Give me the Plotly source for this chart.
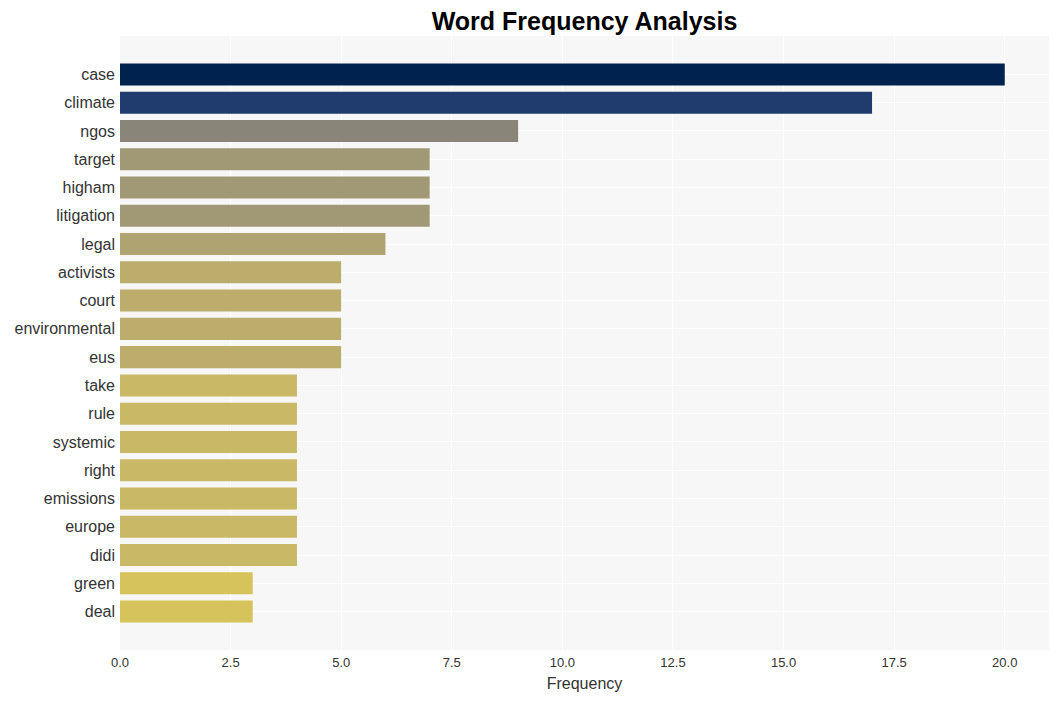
import plotly.graph_objects as go

words = ["case", "climate", "ngos", "target", "higham", "litigation", "legal",
         "activists", "court", "environmental", "eus", "take", "rule", "systemic",
         "right", "emissions", "europe", "didi", "green", "deal"]
counts = [20, 17, 9, 7, 7, 7, 6, 5, 5, 5, 5, 4, 4, 4, 4, 4, 4, 4, 3, 3]

fig = go.Figure(go.Bar(
    x=counts, y=words, orientation="h",
    marker=dict(color=counts, colorscale="Cividis", reversescale=True, cmin=0, cmax=20,
                line=dict(width=0)),
))

fig.update_layout(
    width=1059, height=701,
    margin=dict(l=112, r=18, t=28, b=59),
    paper_bgcolor="white", plot_bgcolor="#f7f7f7",
    font=dict(family="Liberation Sans, Arial, sans-serif", color="#333333"),
    title=dict(text="<b>Word Frequency Analysis</b>", x=0.5, xref="paper",
               y=1 - 13 / 701, yref="container",
               yanchor="middle", font=dict(size=25, color="black")),
    bargap=0.22,
    showlegend=False,
)
fig.update_xaxes(title=dict(text="Frequency", font=dict(size=16), standoff=8),
                 range=[0, 21], gridcolor="white", gridwidth=1, zeroline=False,
                 tickfont=dict(size=13), dtick=2.5, tickformat=".1f",
                 ticklabelstandoff=3, automargin=False)
fig.update_yaxes(range=[20.36, -1.36], gridcolor="white", tickfont=dict(size=16),
                 ticks="", ticklabelstandoff=4, automargin=False)

fig.write_html("out.html")
